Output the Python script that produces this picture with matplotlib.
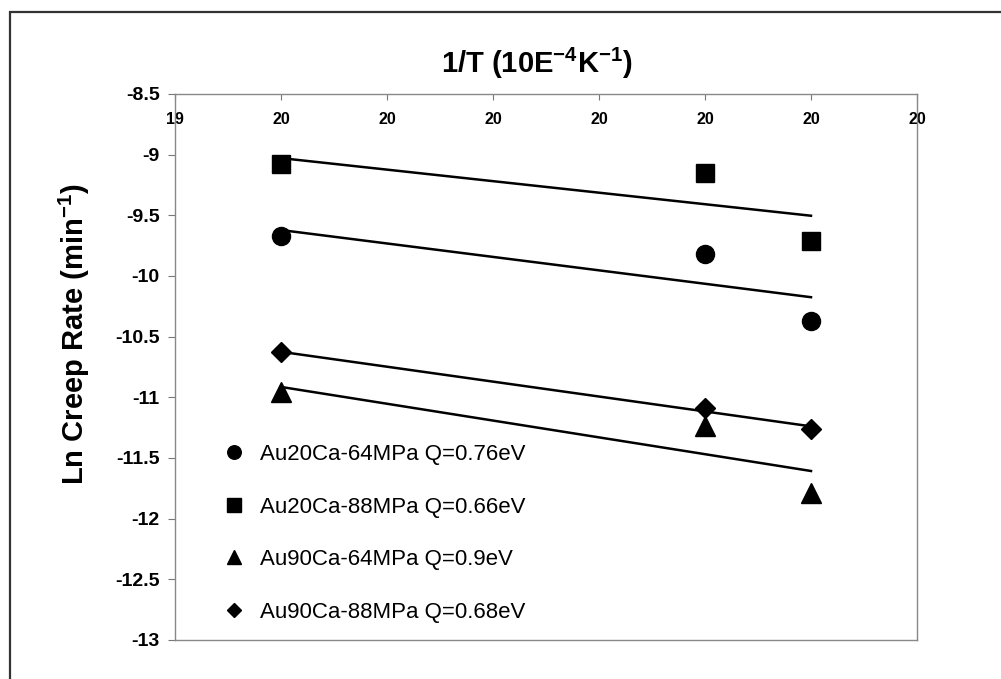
import numpy as np
import matplotlib
matplotlib.use("Agg")
import matplotlib.pyplot as plt
from matplotlib.patches import Rectangle

plt.rcParams['font.family'] = ['Liberation Sans', 'DejaVu Sans']
plt.rcParams['mathtext.fontset'] = 'custom'
plt.rcParams['mathtext.rm'] = 'Liberation Sans'
plt.rcParams['mathtext.bf'] = 'Liberation Sans:bold'

# 1/T values (10E-4 K-1) and ln creep rate for each alloy / stress
inv_t = [19.55, 19.95, 20.05]
au20_64 = [-9.67, -9.82, -10.37]
au20_88 = [-9.08, -9.15, -9.71]
au90_64 = [-10.96, -11.24, -11.79]
au90_88 = [-10.63, -11.09, -11.26]

series = [au20_64, au20_88, au90_64, au90_88]
labels = ["Au20Ca-64MPa Q=0.76eV", "Au20Ca-88MPa Q=0.66eV",
          "Au90Ca-64MPa Q=0.9eV", "Au90Ca-88MPa Q=0.68eV"]
markers = ["o", "s", "^", "D"]
msizes = [13, 13, 14, 10]

x_ticks = [19.45, 19.55, 19.65, 19.75, 19.85, 19.95, 20.05, 20.15]
x_tick_labels = ["19", "20", "20", "20", "20", "20", "20", "20"]
y_ticks = [-13, -12.5, -12, -11.5, -11, -10.5, -10, -9.5, -9, -8.5]
y_tick_labels = ["-13", "-12.5", "-12", "-11.5", "-11", "-10.5", "-10", "-9.5", "-9", "-8.5"]

W, H = 1001, 679
fig = plt.figure(figsize=(W / 100, H / 100), dpi=100)
ax = fig.add_axes([175 / W, 1 - 640 / H, (917 - 175) / W, (640 - 94) / H])

# outer frame of the pasted chart
fig.patches.append(Rectangle((10 / W, -0.05), 1.2, 1 - 12 / H + 0.05,
                             transform=fig.transFigure, fill=False,
                             edgecolor="#333333", linewidth=1.6))

for ys, lab, mk, ms in zip(series, labels, markers, msizes):
    ax.plot(inv_t, ys, linestyle="none", marker=mk, markersize=ms,
            color="black", label=lab)
    k, b = np.polyfit(inv_t, ys, 1)  # trend line
    xx = np.array([inv_t[0], inv_t[-1]])
    ax.plot(xx, k * xx + b, color="black", linewidth=1.8)

ax.set_xlim(x_ticks[0], x_ticks[-1])
ax.set_ylim(-13, -8.5)
ax.set_xticks(x_ticks)
ax.set_xticklabels(x_tick_labels, fontsize=11.5, fontweight="bold")
ax.set_yticks(y_ticks)
ax.set_yticklabels(y_tick_labels, fontsize=14, fontweight="bold")

ax.xaxis.set_ticks_position("top")
ax.tick_params(axis="x", direction="in", length=4, pad=-24, color="#777777")
ax.tick_params(axis="y", direction="out", length=5, pad=6, color="#777777")
for s in ax.spines.values():
    s.set_color("#888888")
    s.set_linewidth(1.0)

ax.set_ylabel(r"Ln Creep Rate (min$^{\mathbf{-1}}$)", fontsize=21, fontweight="bold")
ax.yaxis.set_label_coords(-0.112, 0.56)
fig.text(537 / W, 1 - 73 / H, r"1/T (10E$^{\mathbf{-4}}$K$^{\mathbf{-1}}$)", fontsize=21,
         fontweight="bold", ha="center", va="baseline")

ax.legend(loc="upper left", bbox_to_anchor=(212 / W, 1 - 433 / H),
          bbox_transform=fig.transFigure, frameon=False, fontsize=16,
          markerscale=0.75, handlelength=1.0, handletextpad=0.68,
          labelspacing=1.42, borderpad=0, numpoints=1)

fig.savefig("out.png", dpi=100)
